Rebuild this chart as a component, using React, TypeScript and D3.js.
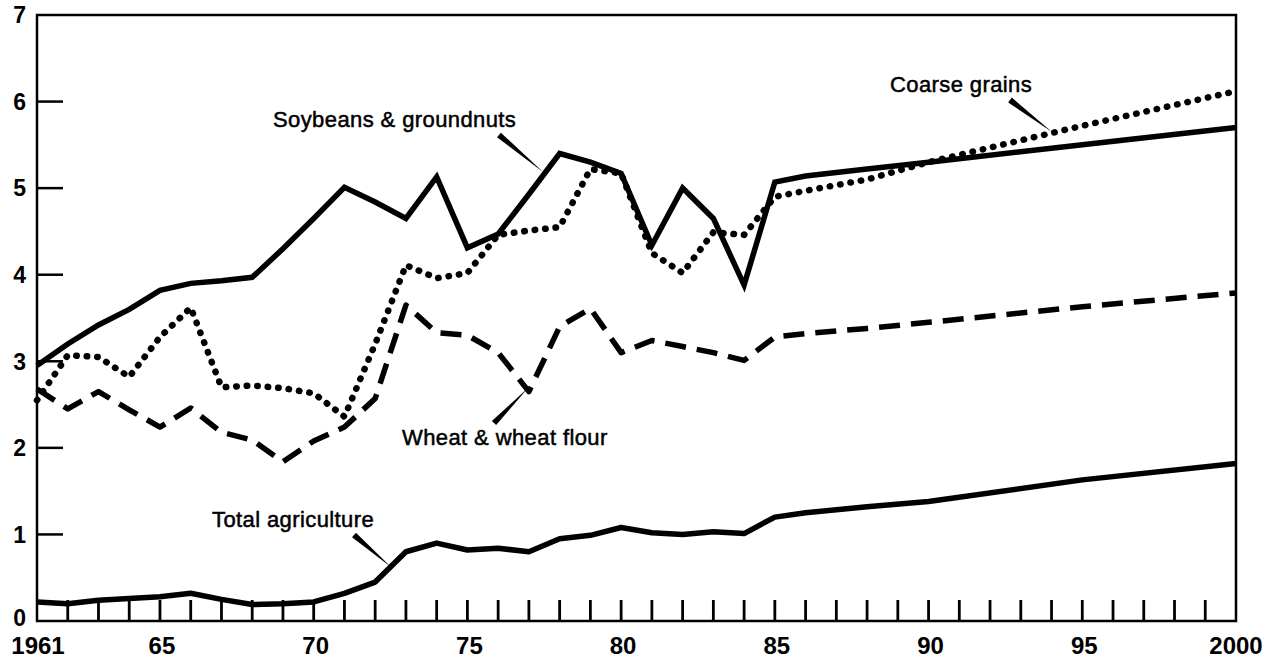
import React from "react";
import * as d3 from "d3";

const histYears = d3.range(1961, 1986);
const projYears = [1986, 1988, 1990, 1995, 2000];
const years = [...histYears, ...projYears];

const soyValues = [2.95, 3.2, 3.42, 3.6, 3.82, 3.9, 3.93, 3.97, 4.3, 4.65, 5.01, 4.84, 4.65, 5.13, 4.31, 4.47, 4.93, 5.4, 5.3, 5.17, 4.34, 5.0, 4.65, 3.88, 5.07, 5.14, 5.22, 5.3, 5.5, 5.7];
const coarseValues = [2.55, 3.07, 3.05, 2.82, 3.28, 3.62, 2.7, 2.72, 2.69, 2.63, 2.36, 3.2, 4.11, 3.96, 4.02, 4.46, 4.51, 4.55, 5.22, 5.17, 4.25, 4.02, 4.49, 4.46, 4.9, 4.97, 5.1, 5.3, 5.72, 6.12];
const wheatValues = [2.68, 2.45, 2.65, 2.44, 2.24, 2.46, 2.18, 2.09, 1.84, 2.08, 2.24, 2.57, 3.65, 3.33, 3.3, 3.1, 2.65, 3.4, 3.61, 3.1, 3.24, 3.17, 3.1, 3.01, 3.28, 3.32, 3.38, 3.45, 3.63, 3.79];
const totalValues = [0.22, 0.2, 0.24, 0.26, 0.28, 0.32, 0.25, 0.19, 0.2, 0.22, 0.32, 0.45, 0.8, 0.9, 0.82, 0.84, 0.8, 0.95, 0.99, 1.08, 1.02, 1.0, 1.03, 1.01, 1.2, 1.25, 1.32, 1.38, 1.63, 1.82];

const yTicks = [0, 1, 2, 3, 4, 5, 6, 7];
const xLabelYears = [1961, 1965, 1970, 1975, 1980, 1985, 1990, 1995, 2000];
const xLabelTexts = ["1961", "65", "70", "75", "80", "85", "90", "95", "2000"];

const W = 1276;
const H = 659;
const left = 37;
const right = 1236;
const top = 15;
const bottom = 621;

export default function App() {
  const x = d3.scaleLinear().domain([1961, 2000]).range([left, right]);
  const y = d3.scaleLinear().domain([0, 7]).range([bottom, top]);
  const line = d3
    .line<number>()
    .x((_, i) => x(years[i]))
    .y((d) => y(d));

  const font = "'Liberation Sans', Arial, Helvetica, sans-serif";

  const wedge = (x1: number, y1: number, x2: number, y2: number, w = 6) => {
    const dx = x2 - x1;
    const dy = y2 - y1;
    const len = Math.hypot(dx, dy);
    const nx = (-dy / len) * (w / 2);
    const ny = (dx / len) * (w / 2);
    return `M${x1 + nx},${y1 + ny}L${x1 - nx},${y1 - ny}L${x2},${y2}Z`;
  };

  const labelStyle = {
    fontFamily: font,
    fontSize: 22,
    letterSpacing: "0.4px",
    fill: "#000",
    stroke: "#000",
    strokeWidth: 0.5,
  } as React.CSSProperties;

  return (
    <svg
      width={W}
      height={H}
      style={{ position: "absolute", left: 0, top: 0, background: "#fff" }}
    >
      <rect x={0} y={0} width={W} height={H} fill="#fff" />
      <rect
        x={left}
        y={top}
        width={right - left}
        height={bottom - top}
        fill="none"
        stroke="#000"
        strokeWidth={2.5}
      />
      {yTicks.map((t) => (
        <g key={"y" + t}>
          {t > 0 && t < 7 && (
            <line x1={left} x2={left + 26} y1={y(t)} y2={y(t)} stroke="#000" strokeWidth={2.5} />
          )}
          <text
            x={26}
            y={y(t)}
            dy={t === 0 ? "0.2em" : "0.36em"}
            textAnchor="end"
            style={{ fontFamily: font, fontSize: 23, fontWeight: 700 }}
          >
            {t}
          </text>
        </g>
      ))}
      {d3.range(1962, 2000).map((yr) => (
        <line key={"xt" + yr} x1={x(yr)} x2={x(yr)} y1={bottom} y2={bottom - 21} stroke="#000" strokeWidth={2.8} />
      ))}
      {xLabelYears.map((yr, i) => (
        <text
          key={"xl" + yr}
          x={x(yr) + (yr === 1961 ? 1 : yr === 2000 ? 0 : 2)}
          y={654}
          textAnchor="middle"
          style={{ fontFamily: font, fontSize: 24, fontWeight: 700 }}
        >
          {xLabelTexts[i]}
        </text>
      ))}

      <path d={line(totalValues) || ""} fill="none" stroke="#000" strokeWidth={5.5} strokeLinejoin="round" />
      <path
        d={line(wheatValues) || ""}
        fill="none"
        stroke="#000"
        strokeWidth={5.5}
        strokeDasharray="21 11"
        strokeLinejoin="round"
      />
      <path
        d={line(coarseValues) || ""}
        fill="none"
        stroke="#000"
        strokeWidth={6.5}
        strokeDasharray="0.5 10"
        strokeLinecap="round"
        strokeLinejoin="round"
      />
      <path d={line(soyValues) || ""} fill="none" stroke="#000" strokeWidth={5.5} strokeLinejoin="miter" />

      <text x={273} y={127} style={labelStyle}>Soybeans &amp; groundnuts</text>
      <path d={wedge(499, 135, 543, 172)} fill="#000" />

      <text x={890} y={92} style={labelStyle}>Coarse grains</text>
      <path d={wedge(1010, 100, 1052, 132)} fill="#000" />

      <text x={402} y={445} style={labelStyle}>Wheat &amp; wheat flour</text>
      <path d={wedge(494, 423, 528, 388)} fill="#000" />

      <text x={212} y={527} style={labelStyle}>Total agriculture</text>
      <path d={wedge(354, 535, 391, 567)} fill="#000" />
    </svg>
  );
}
